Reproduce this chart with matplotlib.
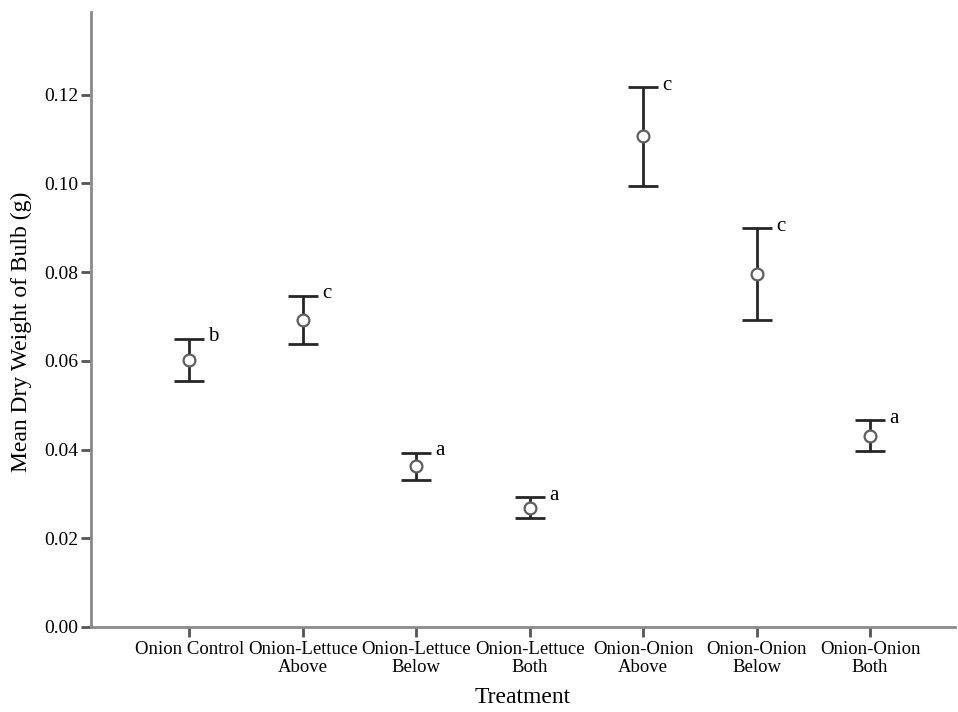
import numpy as np
import matplotlib
matplotlib.use("Agg")
import matplotlib.pyplot as plt

treatments = ["Onion Control", "Onion-Lettuce\nAbove", "Onion-Lettuce\nBelow", "Onion-Lettuce\nBoth",
              "Onion-Onion\nAbove", "Onion-Onion\nBelow", "Onion-Onion\nBoth"]
means = [0.0602, 0.0693, 0.0363, 0.0268, 0.1108, 0.0796, 0.0431]
upper = [0.0650, 0.0747, 0.0393, 0.0293, 0.1218, 0.0900, 0.0467]
lower = [0.0555, 0.0638, 0.0332, 0.0246, 0.0995, 0.0693, 0.0397]
letters = ["b", "c", "a", "a", "c", "c", "a"]

plt.rcParams["font.family"] = ["Liberation Serif", "DejaVu Serif"]

fig = plt.figure(figsize=(9.58, 7.12), dpi=100)
ax = fig.add_axes([0.095, 0.1194, 0.902, 0.864])

x = np.arange(len(treatments))
means = np.array(means)
yerr = [means - np.array(lower), np.array(upper) - means]
ax.errorbar(x, means, yerr=yerr, fmt="none", ecolor="#262626", elinewidth=2,
            capsize=11, capthick=2, zorder=2)
ax.plot(x, means, "o", mfc="white", mec="#5e5e5e", mew=1.6, ms=8.5, zorder=3)

for xi, up, lab in zip(x, upper, letters):
    ax.text(xi + 0.17, up + 0.0004, lab, fontsize=15, ha="left", va="center", color="black")

ax.set_xlim(-0.865, 6.75)
ax.set_ylim(0, 0.1387)
ax.set_yticks(np.arange(0, 0.121, 0.02))
ax.set_yticklabels([f"{v:.2f}" for v in np.arange(0, 0.121, 0.02)])
ax.set_xticks(x)
ax.set_xticklabels(treatments, fontsize=13.5, linespacing=1.05)
ax.tick_params(axis="y", labelsize=14, length=7, width=2, color="#555555", direction="out", pad=2)
ax.tick_params(axis="x", length=7, width=2, color="#555555", direction="out", pad=3)

for s in ["top", "right"]:
    ax.spines[s].set_visible(False)
for s in ["left", "bottom"]:
    ax.spines[s].set_color("#8a8a8a")
    ax.spines[s].set_linewidth(2)

ax.set_ylabel("Mean Dry Weight of Bulb (g)", fontsize=17)
ax.yaxis.set_label_coords(-0.068, 0.48)
ax.set_xlabel("Treatment", fontsize=17, labelpad=8)

fig.savefig("out.png", dpi=100)
